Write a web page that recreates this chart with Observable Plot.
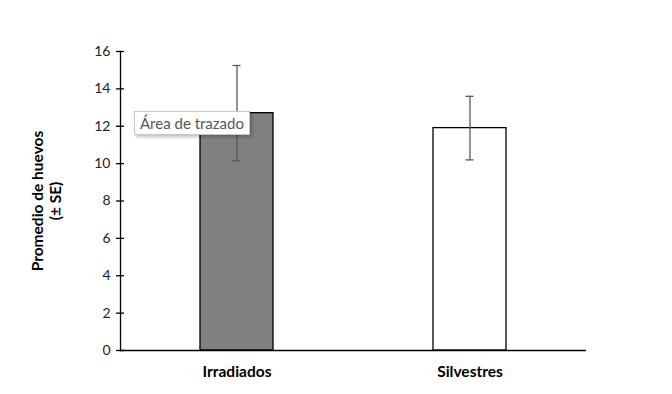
<!DOCTYPE html>
<html><head><meta charset="utf-8">
<script src="https://cdn.jsdelivr.net/npm/d3@7"></script>
<script src="https://cdn.jsdelivr.net/npm/@observablehq/plot@0.6"></script>
<style>
body{margin:0;background:#fff;font-family:Lato,"Open Sans",sans-serif;}
#wrap{position:relative;width:672px;height:394px;}
#tip{position:absolute;left:134px;top:111px;width:116px;height:24px;box-sizing:border-box;background:#fff;border:1px solid #c8c8c8;box-shadow:2px 2px 3px rgba(0,0,0,0.25);font:15px Lato,"Open Sans",sans-serif;color:#575757;line-height:22px;padding-left:5px;white-space:nowrap;}
</style></head>
<body><div id="wrap"></div>
<script>
const categories = ["Irradiados", "Silvestres"];
const means = [12.7, 11.9];
const se = [2.55, 1.7];
const fills = ["#808080", "#ffffff"];
const yTicks = [0, 2, 4, 6, 8, 10, 12, 14, 16];
const yLabel = "Promedio de huevos\n(± SE)";
const tipText = "Área de trazado";

const data = categories.map((c, i) => ({cat: c, mean: means[i], lo: means[i] - se[i], hi: means[i] + se[i], fill: fills[i]}));

const chart = Plot.plot({
  width: 672, height: 394,
  marginLeft: 120, marginRight: 86, marginTop: 51, marginBottom: 44,
  style: {fontFamily: "Lato, 'Open Sans', sans-serif", background: "white"},
  x: {domain: categories, paddingInner: 0.687, paddingOuter: 0.3435, label: null},
  y: {domain: [0, 16], label: null},
  marks: [
    Plot.barY(data, {x: "cat", y: "mean", fill: d => d.fill, stroke: "black", strokeWidth: 1.3}),
    Plot.ruleX(data, {x: "cat", y1: "lo", y2: "hi", stroke: "#595959", strokeWidth: 1.3}),
    Plot.tickY(data, {x: "cat", y: "lo", stroke: "#595959", strokeWidth: 1.3, insetLeft: 32.5, insetRight: 32.5}),
    Plot.tickY(data, {x: "cat", y: "hi", stroke: "#595959", strokeWidth: 1.3, insetLeft: 32.5, insetRight: 32.5}),
    Plot.ruleY([0], {stroke: "black", strokeWidth: 1.3}),
    Plot.frame({anchor: "left", stroke: "black", strokeWidth: 1.3}),
    Plot.tickY(yTicks, {y: d => d, stroke: "black", strokeWidth: 1.3, insetRight: 458, dx: -4}),
    Plot.axisY({ticks: yTicks, tickSize: 0, tickPadding: 10, fontSize: 14, fill: "#222", label: null}),
    Plot.axisX({tickSize: 0, tickPadding: 15, fontSize: 15.5, fontWeight: "bold", fill: "#000", label: null}),
    Plot.text([yLabel], {frameAnchor: "left", dx: -74, rotate: -90, textAnchor: "middle", lineAnchor: "middle", fontSize: 15.5, fontWeight: "bold", fill: "#000", lineHeight: 1.15, text: d => d})
  ]
});
const wrap = document.getElementById("wrap");
wrap.appendChild(chart);
const tip = document.createElement("div");
tip.id = "tip";
tip.textContent = tipText;
wrap.appendChild(tip);
</script></body></html>
